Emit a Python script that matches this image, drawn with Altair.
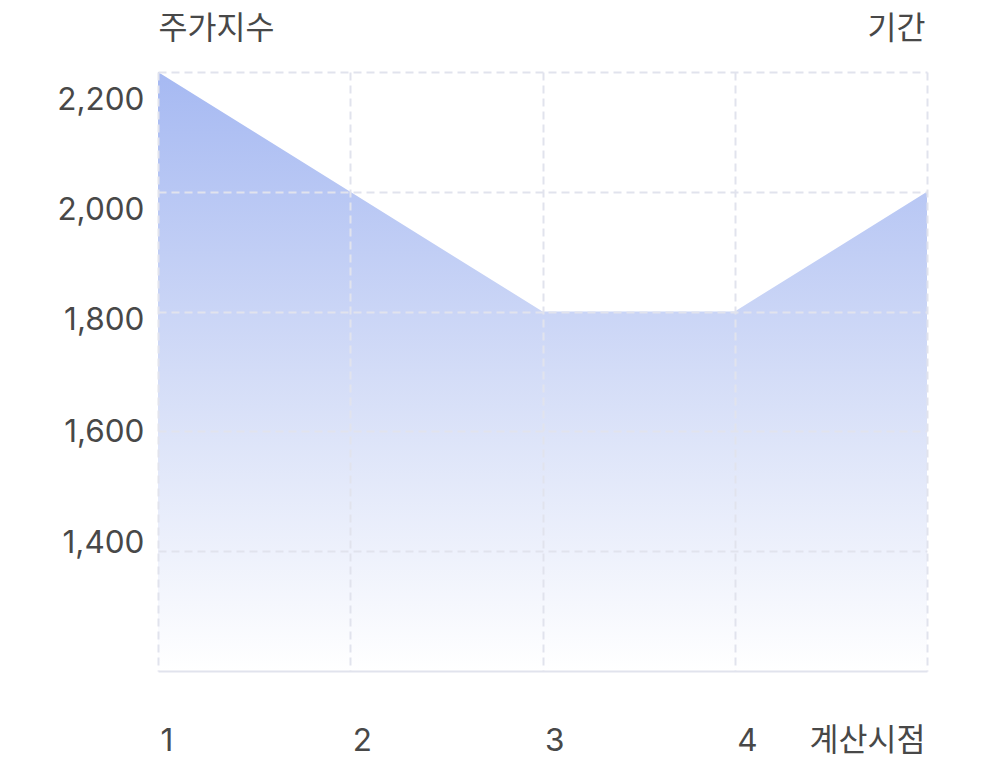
import altair as alt
import pandas as pd

# Data
periods = [1, 2, 3, 4, 5]
index_values = [2200, 2000, 1800, 1800, 2000]
x_tick_labels = ["1", "2", "3", "4", "계산시점"]
y_ticks = [1400, 1600, 1800, 2000, 2200]
y_title = "주가지수"
x_title = "기간"

df = pd.DataFrame({"t": periods, "v": index_values})

FONT = "Inter, Noto Sans CJK KR, sans-serif"
FS = 31.5
TXT = "#484848"
GRID = "#e1e3ed"

label_list = "[" + ",".join("'" + s + "'" for s in x_tick_labels) + "]"
x_label_expr = f"{label_list}[datum.value - 1]"

# per-label vertical nudges of the y labels (as in reference)
y_offsets = {2200: 28, 2000: 19, 1800: 9, 1600: 1, 1400: -8}
y_offset_cond = {
    "condition": [{"test": f"datum.value == {k}", "value": v} for k, v in y_offsets.items()],
    "value": 0,
}

gradient = alt.LinearGradient(
    gradient="linear",
    x1=0, y1=0, x2=0, y2=1,
    stops=[
        alt.GradientStop(offset=0, color="#a6b9f2"),
        alt.GradientStop(offset=0.5, color="#d3dcf7"),
        alt.GradientStop(offset=1, color="#ffffff"),
    ],
)

chart = (
    alt.Chart(df)
    .mark_area(color=gradient, interpolate="linear")
    .encode(
        x=alt.X(
            "t:Q",
            scale=alt.Scale(domain=[1, 5], nice=False, zero=False),
            axis=alt.Axis(
                values=periods,
                labelExpr=x_label_expr,
                title=x_title,
                titleAngle=0,
                titleAlign="right",
                titleBaseline="middle",
                titleX=767,
                titleY=-642,
                titleFont=FONT,
                titleFontSize=FS,
                titleFontWeight="normal",
                titleColor=TXT,
                labelFont=FONT,
                labelFontSize=FS,
                labelColor=TXT,
                labelAlign={"condition": {"test": "datum.value == 5", "value": "right"}, "value": "left"},
                labelBaseline="middle",
                labelPadding=70,
                labelOffset={"condition": {"test": "datum.value == 5", "value": -2}, "value": 2},
                labelFlush=False,
                labelOverlap=False,
                ticks=False,
                tickSize=0,
                domain=True,
                domainColor=GRID,
                domainWidth=2,
                grid=True,
                gridColor=GRID,
                gridDash=[8, 5],
                gridWidth=2,
                zindex=1,
            ),
        ),
        y=alt.Y(
            "v:Q",
            scale=alt.Scale(domain=[1200, 2200], nice=False, zero=False),
            axis=alt.Axis(
                values=y_ticks,
                format=",d",
                title=y_title,
                titleAngle=0,
                titleAlign="left",
                titleBaseline="middle",
                titleX=0,
                titleY=-43,
                titleFont=FONT,
                titleFontSize=FS,
                titleFontWeight="normal",
                titleColor=TXT,
                labelFont=FONT,
                labelFontSize=FS,
                labelColor=TXT,
                labelAlign="right",
                labelBaseline="middle",
                labelPadding=14,
                labelOffset=y_offset_cond,
                labelOverlap=False,
                ticks=False,
                tickSize=0,
                domain=False,
                grid=True,
                gridColor=GRID,
                gridDash=[8, 5],
                gridWidth=2,
                zindex=1,
            ),
        ),
        y2=alt.datum(1200),
    )
    .properties(
        width=769,
        height=599,
        autosize=alt.AutoSizeParams(type="none"),
        padding={"left": 150, "top": 64, "right": 49, "bottom": 89},
        background="white",
    )
    .configure_view(stroke=None)
)

chart.save("out.html", embed_options={"renderer": "svg", "actions": False})
